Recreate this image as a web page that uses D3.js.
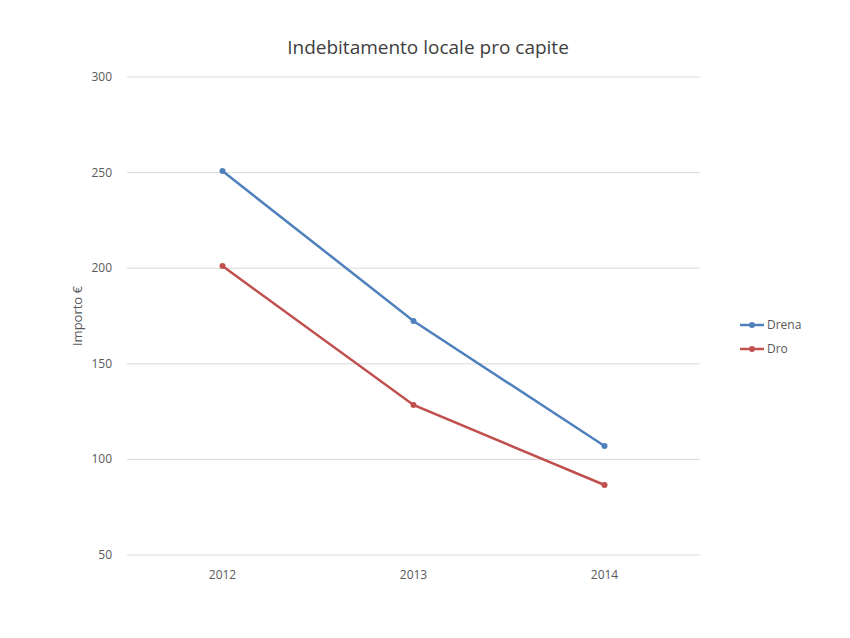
<!DOCTYPE html>
<html><head><meta charset="utf-8">
<script src="https://cdn.jsdelivr.net/npm/d3@7"></script>
<style>body{margin:0;background:#fff;font-family:"Open Sans",sans-serif;}</style>
</head><body>
<script>
var years = ['2012', '2013', '2014'];
var drena = [250.8, 172.4, 107];
var dro = [201.1, 128.5, 86.6];
var yTicks = [50, 100, 150, 200, 250, 300];
var series = [
    { name: 'Drena', values: drena, color: '#4F81BD' },
    { name: 'Dro', values: dro, color: '#C0504D' }
];

var svg = d3.select('body').append('svg').attr('width', 850).attr('height', 638);

var x = d3.scaleBand().domain(years).range([127, 700]);
var y = d3.scaleLinear().domain([50, 300]).range([555, 77]);

svg.append('text').attr('x', 428).attr('y', 54).attr('text-anchor', 'middle')
    .attr('font-size', 19).attr('fill', '#404040').text('Indebitamento locale pro capite');

svg.selectAll('.grid').data(yTicks).enter().append('line')
    .attr('x1', 127).attr('x2', 700)
    .attr('y1', function (d) { return y(d); }).attr('y2', function (d) { return y(d); })
    .attr('stroke', '#d9d9d9').attr('stroke-width', 1);

svg.selectAll('.yl').data(yTicks).enter().append('text')
    .attr('x', 112).attr('y', function (d) { return y(d) + 4; })
    .attr('text-anchor', 'end').attr('font-size', 12).attr('fill', '#595959')
    .text(function (d) { return d; });

svg.selectAll('.xl').data(years).enter().append('text')
    .attr('x', function (d) { return x(d) + x.bandwidth() / 2; }).attr('y', 579)
    .attr('text-anchor', 'middle').attr('font-size', 12).attr('fill', '#595959')
    .text(function (d) { return d; });

svg.append('text').attr('transform', 'translate(82,316) rotate(-90)')
    .attr('text-anchor', 'middle').attr('font-size', 13).attr('fill', '#595959').text('Importo €');

var line = d3.line()
    .x(function (d, i) { return x(years[i]) + x.bandwidth() / 2; })
    .y(function (d) { return y(d); });

series.forEach(function (s, k) {
    svg.append('path').attr('d', line(s.values)).attr('fill', 'none')
        .attr('stroke', s.color).attr('stroke-width', 2.5);
    svg.selectAll('.p' + k).data(s.values).enter().append('circle')
        .attr('cx', function (d, i) { return x(years[i]) + x.bandwidth() / 2; })
        .attr('cy', function (d) { return y(d); })
        .attr('r', 3).attr('fill', s.color);
    var ly = 325 + k * 24;
    svg.append('line').attr('x1', 740).attr('x2', 764).attr('y1', ly).attr('y2', ly)
        .attr('stroke', s.color).attr('stroke-width', 2.5);
    svg.append('circle').attr('cx', 752).attr('cy', ly).attr('r', 3).attr('fill', s.color);
    svg.append('text').attr('x', 767).attr('y', ly + 4).attr('font-size', 12)
        .attr('fill', '#595959').text(s.name);
});
</script>
</body></html>
